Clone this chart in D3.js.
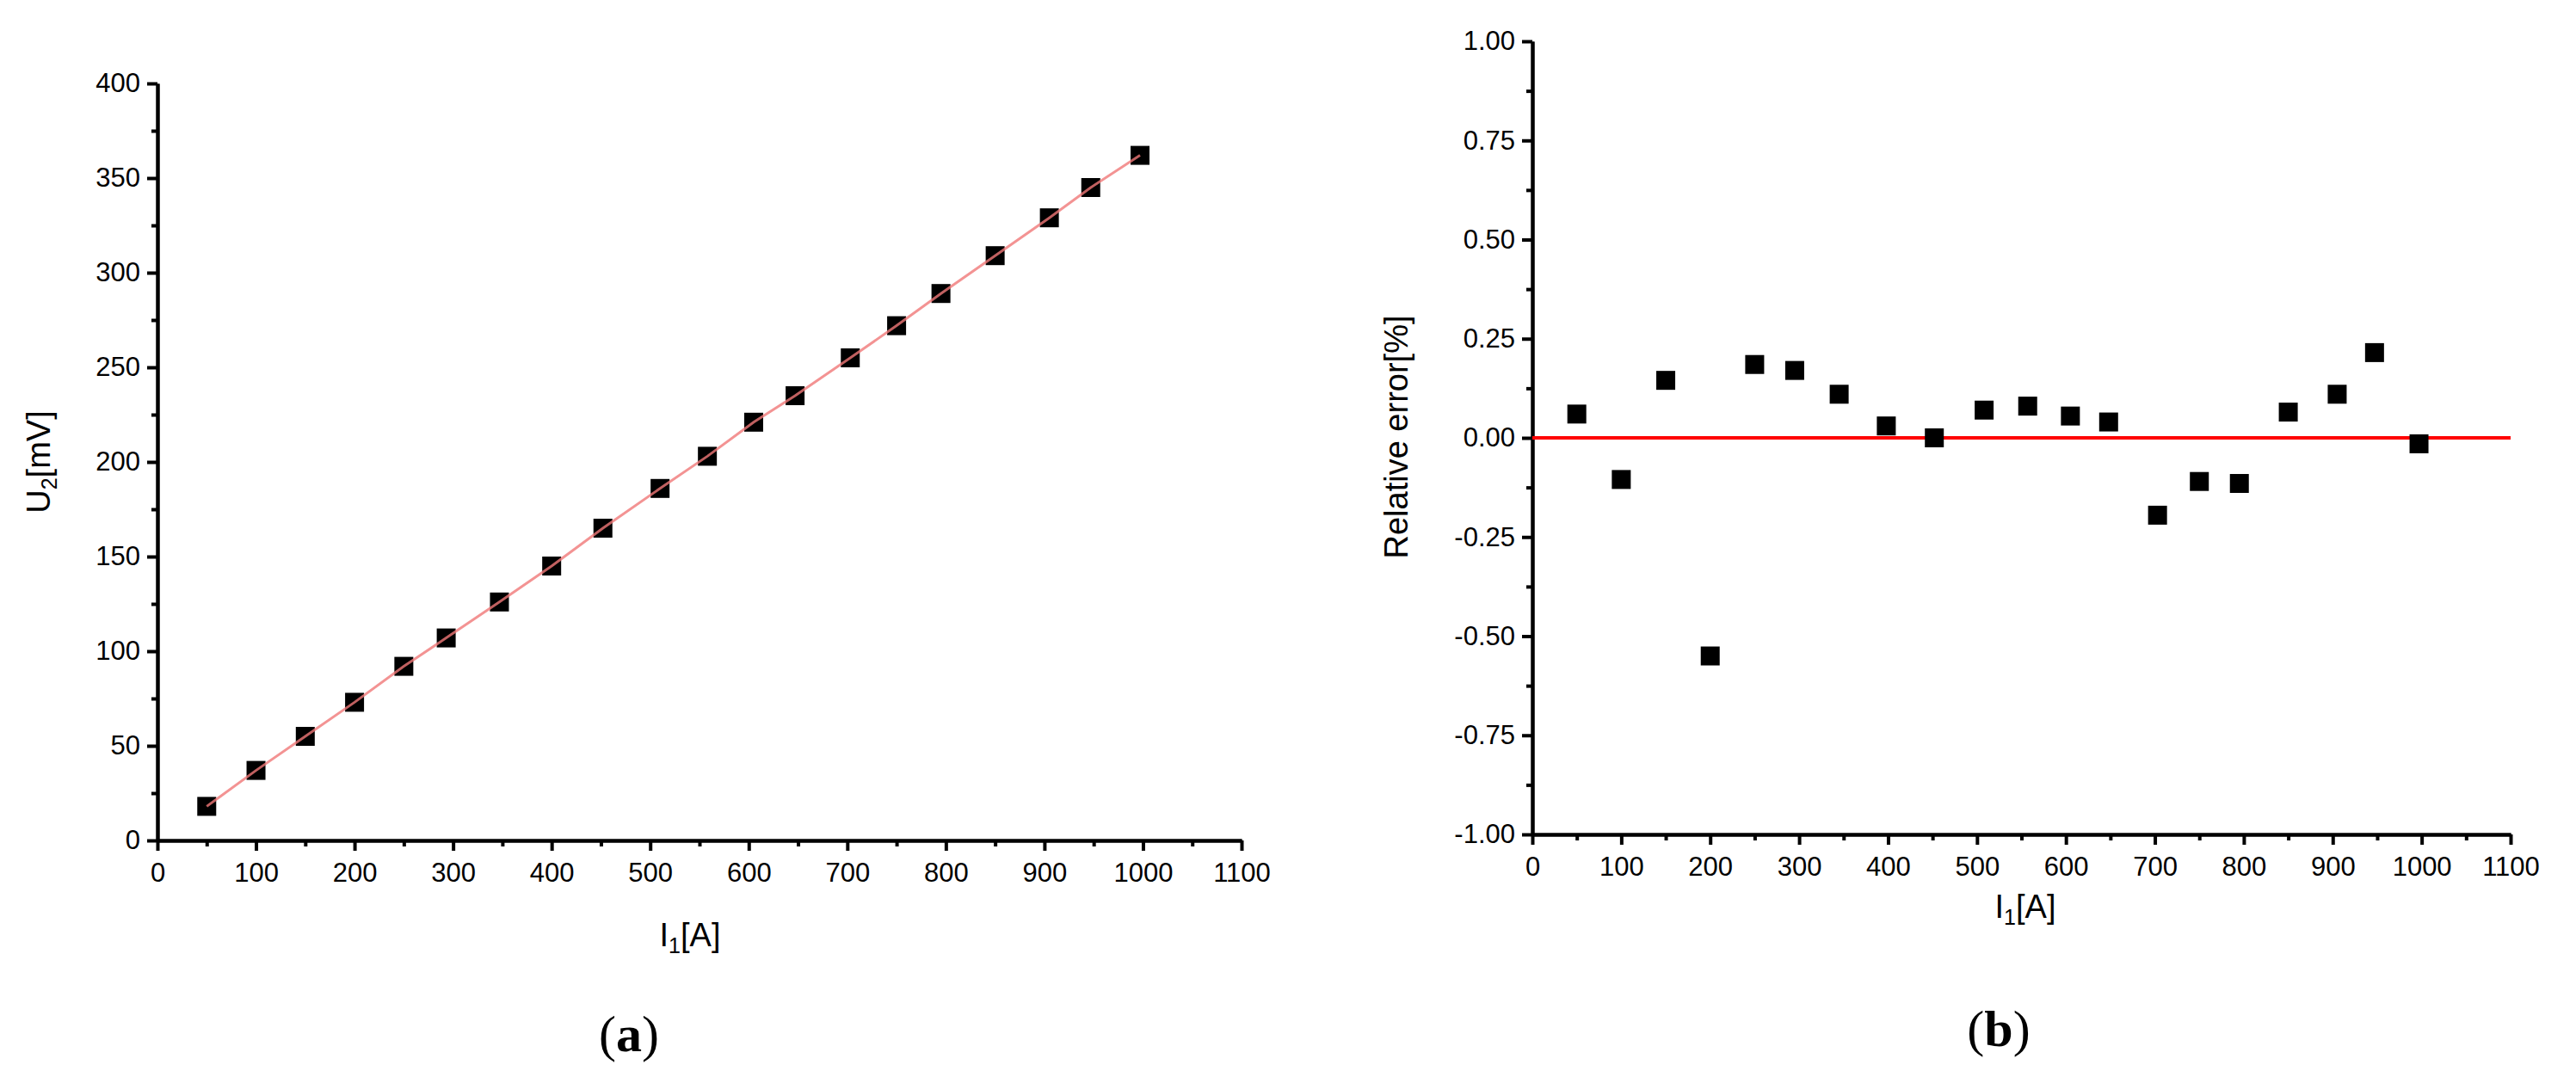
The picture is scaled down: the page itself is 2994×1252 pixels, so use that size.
<!DOCTYPE html>
<html><head><meta charset="utf-8">
<script src="https://cdn.jsdelivr.net/npm/d3@7"></script>
<style>body{margin:0;background:#fff}svg{display:block}text{font-family:"Liberation Sans",Arial,sans-serif}</style>
</head><body><svg id="c" width="2994" height="1252"></svg>
<script>
const currentA = [50,100,150,200,250,293,347,400,452,510,558,605,647,703,750,795,850,905,947,997];
const voltageMV = [18,37,55,73,92,107,126,145,165,186,203,221,235,255,272,289,309,329,345,362];
const currentB = [50,100,150,200,250,295,345,398,452,508,557,605,648,703,750,795,850,905,947,997];
const relError = [0.06,-0.105,0.145,-0.55,0.185,0.17,0.11,0.03,0.0,0.07,0.08,0.055,0.04,-0.195,-0.11,-0.115,0.065,0.11,0.215,-0.015];
const xTicks = [0,100,200,300,400,500,600,700,800,900,1000,1100];
const yTicksA = [0,50,100,150,200,250,300,350,400];
const yTicksB = [-1,-0.75,-0.5,-0.25,0,0.25,0.5,0.75,1];

const svg = d3.select("#c");
function axes(g, x, y, yt, fmt, ystep){
  g.append("g").attr("transform",`translate(0,${y.range()[0]})`)
    .call(d3.axisBottom(x).tickValues(xTicks).tickFormat(d=>String(d)).tickSize(12).tickSizeOuter(0).tickPadding(14));
  g.append("g").attr("transform",`translate(0,${y.range()[0]})`)
    .call(d3.axisBottom(x).tickValues(d3.range(50,1100,100)).tickSize(7).tickFormat("").tickSizeOuter(0));
  g.append("g").attr("transform",`translate(${x.range()[0]},0)`)
    .call(d3.axisLeft(y).tickValues(yt).tickFormat(fmt).tickSize(12).tickSizeOuter(0).tickPadding(8));
  g.append("g").attr("transform",`translate(${x.range()[0]},0)`)
    .call(d3.axisLeft(y).tickValues(yt.slice(0,-1).map(v=>v+ystep)).tickSize(7).tickFormat("").tickSizeOuter(0));
  g.selectAll(".domain,.tick line").attr("stroke","#000").attr("stroke-width",4);
  g.selectAll(".tick text").attr("font-size",31).attr("fill","#000");
}
// Panel a
const xa = d3.scaleLinear().domain([0,1100]).range([183,1443]);
const ya = d3.scaleLinear().domain([0,400]).range([977,97]);
const ga = svg.append("g");
axes(ga, xa, ya, yTicksA, d=>String(d), 25);
const lineA = d3.line().x(d=>xa(d[0])).y(d=>ya(d[1]));
const ptsA = currentA.map((d,i)=>[d,voltageMV[i]]);
ga.selectAll("rect.p").data(currentA).join("rect").attr("class","p")
  .attr("x",(d)=>xa(d)-11).attr("y",(d,i)=>ya(voltageMV[i])-11).attr("width",22).attr("height",22).attr("fill","#000");
ga.append("path").datum(ptsA).attr("d", lineA)
  .attr("fill","none").attr("stroke","#f07878").attr("stroke-width",3).attr("opacity",0.8);
const ta = ga.append("text").attr("transform","translate(58,537) rotate(-90)").attr("text-anchor","middle").attr("font-size",38);
ta.append("tspan").text("U");
ta.append("tspan").attr("font-size",25).attr("dy",8).text("2");
ta.append("tspan").attr("dy",-8).text("[mV]");
const la = ga.append("text").attr("x",802).attr("y",1100).attr("text-anchor","middle").attr("font-size",38);
la.append("tspan").text("I");
la.append("tspan").attr("font-size",25).attr("dy",8).text("1");
la.append("tspan").attr("dy",-8).text("[A]");
svg.append("text").attr("x",731).attr("y",1222).attr("text-anchor","middle").attr("font-size",60)
  .style("font-family","'Liberation Serif','Times New Roman',serif")
  .html('(<tspan font-weight="bold">a</tspan>)');

// Panel b
const xb = d3.scaleLinear().domain([0,1100]).range([1781,2918]);
const yb = d3.scaleLinear().domain([-1,1]).range([970,48]);
const gb = svg.append("g");
axes(gb, xb, yb, yTicksB, d=>d.toFixed(2), 0.125);
gb.append("line").attr("x1",xb(0)).attr("x2",xb(1100)).attr("y1",yb(0)).attr("y2",yb(0))
  .attr("stroke","#ff0000").attr("stroke-width",4);
gb.selectAll("rect.p").data(currentB).join("rect").attr("class","p")
  .attr("x",d=>xb(d)-11).attr("y",(d,i)=>yb(relError[i])-11).attr("width",22).attr("height",22).attr("fill","#000");
gb.append("text").attr("transform","translate(1636,508) rotate(-90)").attr("text-anchor","middle").attr("font-size",38).text("Relative error[%]");
const lb = gb.append("text").attr("x",2354).attr("y",1067).attr("text-anchor","middle").attr("font-size",38);
lb.append("tspan").text("I");
lb.append("tspan").attr("font-size",25).attr("dy",8).text("1");
lb.append("tspan").attr("dy",-8).text("[A]");
svg.append("text").attr("x",2323).attr("y",1216).attr("text-anchor","middle").attr("font-size",60)
  .style("font-family","'Liberation Serif','Times New Roman',serif")
  .html('(<tspan font-weight="bold">b</tspan>)');
</script></body></html>
